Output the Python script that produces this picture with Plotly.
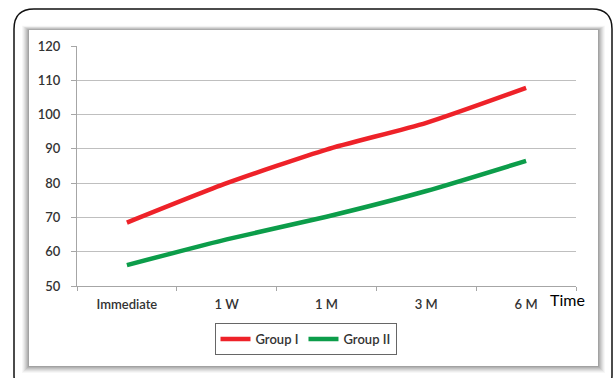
import plotly.graph_objects as go

categories = ["Immediate", "1 W", "1 M", "3 M", "6 M"]
group1 = [68.5, 80.0, 89.8, 97.6, 107.8]
group2 = [56.1, 63.6, 70.2, 77.7, 86.5]
series_names = ["Group I", "Group II"]
y_ticks = [50, 60, 70, 80, 90, 100, 110, 120]

W, H = 615, 378
L, R, T, B = 77, 39, 46, 92
PW, PH = W - L - R, H - T - B


def px(x):
    return (x - L) / PW


def py(y):
    return (H - B - y) / PH


fig = go.Figure()
fig.add_trace(go.Scatter(x=categories, y=group1, name=series_names[0], mode="lines",
                         line=dict(color="#EE2229", width=4.5, shape="spline", smoothing=0.6)))
fig.add_trace(go.Scatter(x=categories, y=group2, name=series_names[1], mode="lines",
                         line=dict(color="#0C9D4A", width=4.5, shape="spline", smoothing=0.6)))

shapes = []
# soft shadow around inner panel
ops = [0.03, 0.04, 0.05, 0.06, 0.07, 0.08, 0.09]
for i, op in enumerate(ops):
    d = len(ops) - i
    shapes.append(dict(type="rect", xref="paper", yref="paper", layer="below",
                       x0=px(29 - d), x1=px(598 + d), y0=py(366 + d), y1=py(30 - d * 0.6),
                       fillcolor=f"rgba(0,0,0,{op})", line=dict(width=0)))
shapes.append(dict(type="rect", xref="paper", yref="paper", layer="below",
                   x0=px(29), x1=px(598), y0=py(366), y1=py(30),
                   fillcolor="white", line=dict(width=0)))
# outer rounded frame
x0, x1, y0, y1, r = 14, 612, 9, 395, 20
path = (f"M {px(x0)},{py(y0 + r)} "
        f"Q {px(x0)},{py(y0)} {px(x0 + r)},{py(y0)} "
        f"L {px(x1 - r)},{py(y0)} "
        f"Q {px(x1)},{py(y0)} {px(x1)},{py(y0 + r)} "
        f"L {px(x1)},{py(y1 - r)} "
        f"Q {px(x1)},{py(y1)} {px(x1 - r)},{py(y1)} "
        f"L {px(x0 + r)},{py(y1)} "
        f"Q {px(x0)},{py(y1)} {px(x0)},{py(y1 - r)} Z")
shapes.append(dict(type="path", xref="paper", yref="paper", path=path, layer="above",
                   line=dict(color="#111111", width=1.5)))

font = "Lato, 'Open Sans', sans-serif"
tick_font = dict(family=font, size=13, color="#333333", weight=600)
fig.update_layout(
    width=W, height=H,
    margin=dict(l=L, r=R, t=T, b=B, autoexpand=False),
    paper_bgcolor="white", plot_bgcolor="white",
    shapes=shapes,
    showlegend=True,
    legend=dict(orientation="h", x=px(305.5), xanchor="center", y=py(323), yanchor="top",
                bordercolor="#666666", borderwidth=1, bgcolor="white",
                font=dict(family=font, size=13, color="#333333", weight=600),
                itemwidth=30, tracegroupgap=0),
    xaxis=dict(type="category", range=[-0.5, 4.5], showgrid=False, automargin=False,
               showline=True, linecolor="#A6A6A6", linewidth=1,
               ticks="outside", tickson="boundaries", ticklen=4, tickcolor="#A6A6A6",
               tickfont=tick_font, ticklabelstandoff=6),
    yaxis=dict(range=[50, 120], tickvals=y_ticks, showgrid=True, gridcolor="#BFBFBF",
               gridwidth=1, zeroline=False, showline=True, linecolor="#A6A6A6", linewidth=1,
               ticks="outside", ticklen=5, tickcolor="#A6A6A6", automargin=False,
               tickfont=tick_font, ticklabelstandoff=8),
    annotations=[dict(text="Time", xref="paper", yref="paper", x=px(567), y=py(299),
                      showarrow=False, xanchor="center", yanchor="middle",
                      font=dict(family=font, size=16, color="#000000"))],
)

fig.write_html("out.html", config={"displayModeBar": False},
               post_script="document.body.style.margin='0px';")
